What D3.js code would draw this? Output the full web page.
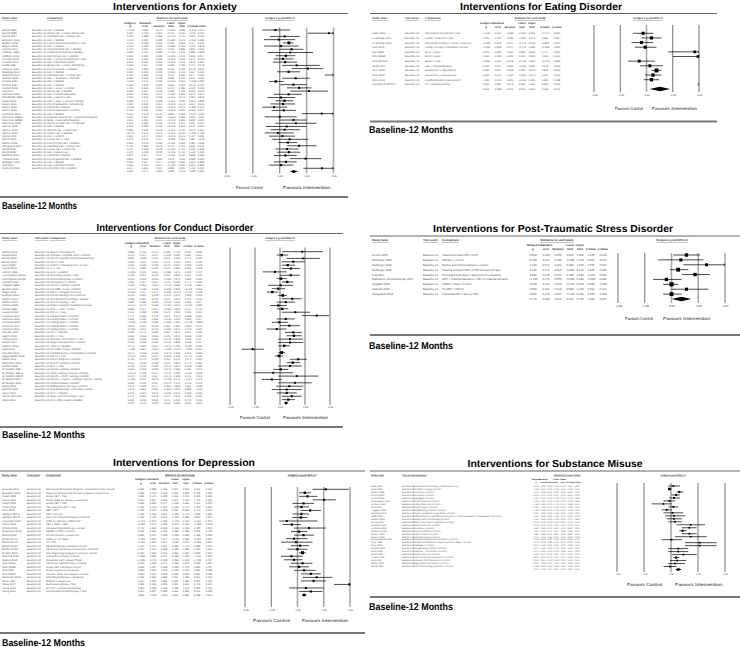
<!DOCTYPE html>
<html>
<head>
<meta charset="utf-8">
<script src="https://cdn.jsdelivr.net/npm/d3@7"></script>
<style>
  body { margin: 0; background: #fff; }
  svg { display: block; font-family: "Liberation Sans", Arial, sans-serif; text-rendering: geometricPrecision; }
</style>
</head>
<body>
<svg id="chart" width="740" height="647"></svg>
<script>
// ---- shared ----
const axisTicks = [-2, -1, 0, 1, 2];
const timePoint = "Baseline-12";
const statHeads = [["Hedges's", "g"], ["Standard", "error"], ["", "Variance"], ["Lower", "limit"], ["Upper", "limit"], ["", "Z-Value"], ["", "p-Value"]];

// ---- Anxiety ----
const anxietyStudies = ["Barrett 1996", "Barrett 1998", "Barrett 2004", "Bernstein 2005", "Bodden 2008", "Bögels 2008", "Chavira 2014", "Cobham 1998", "Cobham 2012", "Creswell 2010", "Creswell 2017", "Dadds 1997", "Flannery 2000", "Ginsburg 2014", "Hirshfeld 2010", "Hudson 2009", "Kendall 1994", "Kendall 1997", "Kendall 2008", "Lau 2010", "Manassis 2002", "Mendlowitz 1999", "Nauta 2003", "Rapee 2005", "Rapee 2006", "Rapee 2010", "Schneider 2011", "Silverman 1999a", "Silverman 1999b", "Silverman 2009", "Spence 2000", "Spence 2006", "Spence 2011", "Spence 2017", "Storch 2015", "Waters 2009", "Wergeland 2014", "Wood 2006", "Wood 2009", "Wuthrich 2012", "Thirlwall 2013", "Gallagher 2004", "Pahl 2011", "Kennedy 2009"];
const anxietyComparisons = ["CBT v Waitlist", "Group CBT + FAM v Group CBT", "Individual CBT v Group CBT", "CBT v Waitlist", "Family-based intervention v TAU", "CBT v Control", "Computerised CBT v Waitlist", "Child-parent training v Waitlist", "Brief Group CBT v Waitlist", "CBT + Parent Involvement v CBT", "CBT v Attention control", "Group CBT + FAM v Monitoring", "Parent-led CBT v Waitlist", "CBT v Waitlist", "Individual CBT v Family CBT", "CBT + Sertraline v Placebo", "CBT v Waitlist", "CBT v Waitlist", "ICBT v FCBT v Control", "Group CBT v Waitlist", "CBT v Parent Education", "CBT + Parent v CBT", "ICBT v ICBT + Parent Training", "Parent Education v Monitoring", "Cool Kids v Waitlist", "Parent Education v Control", "CBT v Waitlist", "Exposure-based CBT v Education/Support", "GCBT v Education/Support", "Parent & Child CBT v Child CBT", "CBT v Waitlist", "Internet CBT v Clinic CBT", "Online CBT v Waitlist", "CBT v Control", "Family CBT v TAU", "Parent-Child CBT v Waitlist", "Individual CBT v Group CBT", "Family CBT v Child CBT", "CBT v Usual Care", "Cool Kids v Waitlist", "Parent-guided CBT v Waitlist", "CBT v Waitlist", "CBT v Attention control", "Cool Little Kids v Waitlist"];
const anxietyG = [-0.16, 1.83, 0.18, -0.04, 0.34, 0.05, 0.44, 0.39, 0.23, 0.12, 0.20, 0.63, 1.05, 0.33, 2.45, 0.59, -0.15, 0.51, 0.72, 1.09, 0.33, 0.05, 0.18, 0.12, -0.21, 0.15, 1.56, 0.00, 0.51, 0.60, 0.26, 0.18, -0.07, 0.10, 0.37, 0.30, 0.72, 0.27, 0.34, 0.21, 0.96, 0.23, 0.05, 1.57];
const anxietyLower = [-0.65, 1.04, -0.37, -0.59, 0.12, -0.59, 0.00, -0.46, -0.16, -0.22, -0.25, 0.09, 0.45, -0.10, 1.67, 0.09, -0.40, 0.02, 0.27, 0.39, -0.22, -0.46, -0.16, -0.34, -0.65, -0.30, 0.82, -0.56, -0.04, -0.16, -0.52, -0.34, -0.56, -0.40, -0.28, -0.05, 0.27, -0.16, -0.10, -0.22, 0.37, -0.22, -0.40, 0.88];
const anxietyUpper = [0.39, 2.62, 0.76, 0.57, 0.51, 0.70, 0.88, 1.24, 0.57, 0.51, 0.65, 1.49, 1.61, 0.76, 3.20, 1.12, 0.15, 1.00, 1.18, 1.79, 0.82, 0.57, 0.51, 0.57, 0.27, 0.60, 2.30, 0.63, 1.00, 1.37, 1.00, 0.76, 0.51, 0.57, 1.06, 0.65, 1.37, 0.70, 0.76, 0.63, 1.55, 0.63, 0.51, 2.26];
const anxietySummary = [0.52, 0.38, 0.67];

// ---- Eating disorder ----
const eatingStudies = ["Eisler 2000", "Le Grange 2007", "Le Grange 2016", "Lock 2010", "Nyle 1995", "Nyle 1995b", "Schmidt 2007", "Stefini 2017", "Stice 2008", "Stice 2010", "Stice 2013", "Tanofsky-Kraff 2014"];
const eatingComparisons = ["Specialised out-patient v TAU", "Family Treatment v CBT", "Parent intervention v Family Treatment", "Family Therapy v Individual Therapy", "BFST v EOFT", "BFST v EOFT", "BDEX v TAU", "CBT v Psychodynamic", "Dissonance v educational", "Dissonance v Assessment", "Healthy Weight v Assessment", "IPT v Healthy Eating"];
const eatingG = [-0.13, 0.19, -0.19, -0.05, 1.84, 1.96, -0.28, 0.13, 0.38, 0.25, 0.19, 2.60];
const eatingLower = [-0.51, -0.19, -0.57, -0.44, 0.82, 1.01, -0.70, -0.25, 0.19, -0.06, -0.10, 2.05];
const eatingUpper = [0.25, 0.57, 0.25, 0.38, 2.35, 2.90, 0.32, 0.63, 0.57, 0.57, 0.48, 3.15];
const eatingSummary = [0.51, 0.12, 0.90];

// ---- Conduct disorder ----
const conductStudies = ["Axberg 2012", "August 2001", "Barrett 2000", "Behan 2001", "Braet 2009", "Carroll 2013", "Dishion 1995", "Cunningham 2010a", "Cunningham 2010b", "Dekovic 2012", "Forgatch 1999", "Gardner 2006", "Hagen 2011", "Hartman 2003", "Hanisch 2014", "Herbert 2013", "Jouriles 2009", "Kazdin 1992", "Larsson 2009", "Lochman 2004", "Lochman 2006", "Lochman 2008", "Lochman 2011", "Lochman 2015", "McCabe 2014", "Ogden 2008", "Oetting 2003", "Rohde 2004", "Sanders 2000", "Scott 2010", "Sheridan 2012", "Sigmarsdottir 2019", "Stattin 2015", "Stoolmiller 2000", "Sundell 2008", "W-Stratton 1984", "W-Stratton 1997a", "W-Stratton 1997b", "W-Stratton 2004", "W-Stratton 2011", "Weiss 2013", "Wolchik 2002", "Zisser 2005", "van de Wiel 2007", "Nixon 2003"];
const conductComparisons = ["GNFP v Recruitment", "CPPRG + CPPRG Cont v Control", "Parent Training v Parent Counselling", "PCIT v TAU", "DINKY v Standard Serv. Service", "IY v TAU", "FAST v waitlist", "Parenting course v TAU", "Community group v Control", "Compliance v Control", "Parent Training v Control", "Incredible Years v Waitlist", "PMTO v Regular Services", "Parent training v no treatment", "Self-directed parenting v Waitlist", "Parent training v TAU", "Project Support v Existing Services", "PSST + PMT v PSST", "PMTO v TAU", "Coping Power v Control", "Coping Power v Control", "Coping Power v Control", "Coping Power v Control", "Coping Power v Control", "PCIT v Waitlist", "MST v TAU", "Intensive intervention v TAU", "Anger Management v Control", "Triple P v Waitlist", "Incredible Years v Waitlist", "Conjoint Behav. Consultation v Control", "PMTO v TAU", "Parent program v Control", "Parent Training v Control", "MST v TAU", "Parent Training v Waitlist", "Child Training v Parent Training", "Parent + Child Training v Control", "Parent + Teacher Training v Parent Training", "Child Dinosaur v Waitlist", "Multisystemic therapy v Control", "New Beginnings v Literature control", "PCIT v Waitlist", "Anger control training v TAU", "PCIT abbreviated v Waitlist"];
const conductG = [0.89, 0.07, 0.93, 0.53, 0.31, 0.44, -0.20, 0.43, 0.04, 0.29, 0.03, -0.07, -0.31, 0.11, 0.49, 0.23, -0.07, 0.09, 0.61, 1.47, 0.23, -0.03, 0.37, -0.13, 0.53, 0.56, 0.40, 0.40, 0.17, -1.09, 0.07, -0.04, 0.73, 0.51, 0.40, 0.03, -0.27, 0.67, -0.33, 0.60, 0.37, 0.27, 0.27, 0.47, 0.33];
const conductLower = [0.09, -0.13, 0.27, 0.07, 0.07, 0.07, -0.69, 0.00, -0.13, 0.07, -0.47, -0.33, -0.53, -0.07, 0.07, -0.13, -0.40, -0.13, 0.07, 0.87, -0.13, -0.33, 0.00, -0.53, 0.20, 0.27, -0.07, -0.07, -0.07, -1.53, -0.07, -0.20, 0.40, 0.27, -0.07, -0.27, -1.07, -0.07, -0.73, -0.07, -0.16, -0.33, -0.13, 0.07, 0.07];
const conductUpper = [1.71, 0.33, 1.60, 1.00, 0.60, 0.80, 0.27, 0.80, 0.27, 0.53, 0.53, 0.20, -0.07, 0.27, 0.87, 0.60, 0.27, 0.33, 1.20, 1.97, 0.60, 0.33, 0.80, 0.27, 0.87, 0.87, 0.93, 0.93, 0.40, -0.64, 0.20, 0.13, 1.07, 0.80, 0.87, 0.33, 0.53, 1.53, 0.07, 1.27, 0.93, 0.87, 0.67, 0.87, 0.60];
const conductSummary = [0.24, 0.16, 0.33];

// ---- PTSD ----
const ptsdStudies = ["Cohen 2005", "Deblinger 1996", "Deblinger 1999", "Deblinger 2006", "Foa 2013", "Mannarino 2012/Deblinger 2011", "Nygaard 2016", "Salloum 2016", "Wergeland 2014"];
const ptsdComparisons = ["Trauma focused CBT v NST", "Efficacy v control", "Mother and child treatment v control", "Trauma focused CBT v Child focused therapy", "Prolonged Exposure v Supportive Counselling", "CBT + Trauma Narrative v CBT no trauma narrative", "EMDR v Wait v Control", "TF-CBT v CBT-S", "Individual CBT v Group CBT"];
const ptsdG = [0.56, 0.35, 1.31, 0.25, 0.88, -0.19, 0.00, 0.56, 0.00];
const ptsdLower = [0.06, -0.50, 0.44, -0.06, 0.38, -0.69, -0.31, 0.00, -0.31];
const ptsdUpper = [1.06, 1.19, 2.45, 0.63, 1.44, 0.38, 0.25, 1.38, 0.38];
const ptsdSummary = [0.37, 0.01, 0.74];

// ---- Depression ----
const depressionStudies = ["Arnarson 2011", "Beardslee 2013", "Clarke 1995", "Clarke 2001", "Clarke 2002", "Clarke 2016", "Dietz 2015", "Goodyer 2017a", "Goodyer 2017b", "Lewinsohn 1990", "Melvin 2006", "O'Shea 2015", "Poppelaars 2016", "Rasing 2019", "Rohde 2014a", "Rohde 2014b", "Rohde 2015a", "Rohde 2015b", "Sandler 2016", "Sheffield 2006", "Stallard 2012", "Stice 2008a", "Stice 2008b", "Stice 2010", "Stice 2010b", "Stoolmiller 2005", "Weisz 1997", "Weisz 2017", "Young 2006", "Young 2016"];
const depressionComparisons = ["Depression Prevention Program v Assessment Only Control", "Cognitive-behavioral prevention program v Usual Care", "Group CBT v TAU", "Group cognitive therapy v usual care", "Group CBT v TAU", "TAU plus brief CBT v TAU", "FBIT v IPT", "CBT v Control", "Short Term Psychoanalytical v Control", "CWD-A v Waitlist v CWD-A+P", "CBT v SSRI + CBT", "Individual Psychotherapy v Group", "SPARX v CWD v Control", "Op Sterrenzicht v Usual care", "CWD-A v Life Skills", "CT v IPT", "CB Bibliotherapy v Brochure control", "CB Group Depression Intervention v Brochure", "New beginnings program v Literature control", "Indicated Universal v Control", "Classroom CBT v Usual PSHE", "CB Group v Bibliotherapy v Control", "Group CBT v Brochure control", "Group supportive expressive", "Transfer, Skills and Support v control", "Child Psychotherapy v Academic", "MATCH v Usual Care", "Expressive Helping v TAU", "IPT-AST v School Counselling", "Interpersonal Psychotherapy v TAU"];
const depressionG = [1.08, 0.28, 0.38, 1.01, 0.23, 0.15, 0.48, 0.15, 0.13, -0.41, -0.22, 0.44, 0.06, 0.23, -0.13, -0.06, 0.10, 0.00, 0.19, -0.23, -0.13, 0.19, 0.06, 0.25, 0.51, 0.73, 0.61, 1.98, 0.32, 0.51];
const depressionLower = [0.57, 0.06, 0.06, 0.57, -0.19, -0.13, 0.13, -0.19, -0.19, -0.70, -0.57, -0.13, -0.25, -0.13, -0.44, -0.63, -0.25, -0.38, 0.06, -0.63, -0.51, -0.25, -0.32, -0.13, 0.13, 0.19, 0.13, 1.39, -0.32, 0.06];
const depressionUpper = [1.96, 0.51, 0.76, 1.46, 0.63, 0.44, 0.89, 0.44, 0.38, 0.76, 0.13, 1.08, 0.38, 0.63, 0.38, 0.57, 0.44, 0.38, 0.32, 0.19, 0.19, 0.57, 0.44, 0.70, 0.89, 1.33, 1.08, 2.60, 1.01, 0.95];
const depressionSummary = [0.25, 0.16, 0.35];

// ---- Substance misuse ----
const substanceStudies = ["Bodin 2011", "Caria 2011", "Clayton 1996", "Conrod 2010", "Conrod 2013", "Cunningham 2012", "D'Amico 2012", "Dent 2001", "Faggiano 2008", "Gonzales 2012", "Griffin 2003", "Hansen 1988", "Koning 2011", "Lammers 2015", "Lochman 2003", "Malmberg 2014", "Newton 2009", "Newton 2010", "O'Leary-Barrett 2010", "Perry 1996", "Perry 2003", "Sloboda 2009", "Spoth 2001", "Spoth 2004", "Teesson 2017", "Vogl 2012", "Walton 2010", "Werch 2005"];
const substanceComparisons = ["Motivational Interviewing v Assessment only", "Life Skills Training v Control", "Preventure v Control", "Preventure v Control", "Unplugged v Control", "Climate Schools v Control", "Family Check-Up v Control", "Project ALERT v Control", "Strengthening Families v Control", "Project Towards No Drug Abuse v Control", "Combined school and family intervention v Alcohol education v Assessment only control", "Healthy School and Drugs v Control", "Örebro Prevention Programme v Control", "Climate Schools v Control", "Preventure v Control", "Project Northland v Control", "Keepin' it REAL v Control", "Brief intervention v Control", "Computer-based brief intervention v Control", "Adolescent Substance Abuse Prevention Study v Control", "PROSPER v Control", "Strengthening Families v Control", "CLIMATE + PreVenture v Control", "Climate Schools v Control", "Brief motivational intervention v Control", "Computer brief intervention v Control", "Image-based intervention v Control", "School-based drug prevention v Control"];
const substanceG = [0.09, -0.06, 0.31, 0.19, 0.11, -0.06, -0.28, 0.09, -0.16, 0.06, 0.11, 0.11, 0.15, 0.73, 0.68, 0.43, 0.68, 0.73, 0.02, 1.07, 1.07, 0.27, 0.27, 0.46, 0.19, 0.23, 0.15, -0.04];
const substanceLower = [-0.10, -0.12, 0.21, 0.02, -0.07, -0.28, -0.72, -0.10, -0.35, -0.28, -0.22, -0.16, -0.10, 0.21, 0.40, 0.31, 0.40, 0.15, -0.35, 0.52, 0.52, -0.10, -0.10, 0.02, 0.09, -0.04, -0.10, -0.28];
const substanceUpper = [0.33, 0.02, 0.46, 0.33, 0.33, 0.15, 0.02, 0.27, 0.02, 0.46, 0.52, 0.40, 0.40, 1.26, 0.95, 0.58, 0.95, 1.32, 0.40, 1.69, 1.69, 0.64, 0.64, 0.95, 0.31, 0.56, 0.52, 0.21];
const substanceSummary = [0.27, 0.16, 0.39];

const svg = d3.select("#chart");
const f3 = d3.format(".3f");

function normCdf(z) {
  const t = 1 / (1 + 0.2316419 * Math.abs(z));
  const d = 0.3989423 * Math.exp(-z * z / 2);
  const p = d * t * (0.3193815 + t * (-0.3565638 + t * (1.781478 + t * (-1.821256 + t * 1.330274))));
  return z > 0 ? 1 - p : p;
}

// table statistics for one row, from g and its 95% CI
function stats(g, lo, hi) {
  const se = (hi - lo) / 3.92;
  const z = g / se;
  return [g, se, se * se, lo, hi, z, 2 * (1 - normCdf(Math.abs(z)))];
}

function drawPanel(p, d) {
  const n = d.g.length;
  const panel = svg.append("g");
  const fs = p.fs, sfs = p.sfs || p.fs;

  // title and rules
  panel.append("text")
      .attr("x", p.titleX).attr("y", p.titleY)
      .attr("text-anchor", "middle")
      .attr("font-size", 10.2).attr("font-weight", "bold")
      .attr("textLength", p.titleW).attr("lengthAdjust", "spacingAndGlyphs")
      .text(d.title);
  panel.append("line")
      .attr("x1", p.lineX[0]).attr("x2", p.lineX[1])
      .attr("y1", p.topLine).attr("y2", p.topLine)
      .attr("stroke", "#555").attr("stroke-width", 0.9);
  panel.append("line")
      .attr("x1", p.lineX[0]).attr("x2", p.lineX[1])
      .attr("y1", p.bottomLine).attr("y2", p.bottomLine)
      .attr("stroke", "#777").attr("stroke-width", 2);
  panel.append("text")
      .attr("x", p.lineX[0] + (p.lineX[0] ? -1 : 2)).attr("y", p.baseY)
      .attr("font-size", 10).attr("font-weight", "bold")
      .attr("textLength", p.baseW).attr("lengthAdjust", "spacingAndGlyphs")
      .text("Baseline-12 Months");

  // table headers
  const head = panel.append("g").attr("font-size", fs).attr("font-weight", "bold").attr("fill", "#333");
  head.append("text").attr("x", p.cols.name).attr("y", p.headY).attr("text-decoration", "underline").text("Study name");
  if (p.timeHeader) head.append("text").attr("x", p.cols.time).attr("y", p.headY).attr("text-decoration", "underline").text("Time point");
  head.append("text").attr("x", p.cols.comp).attr("y", p.headY).attr("text-decoration", "underline").text("Comparison");
  head.append("text").attr("x", p.cols.statsHead).attr("y", p.headY).attr("text-anchor", "middle")
      .attr("text-decoration", "underline").text("Statistics for each study");
  head.append("text").attr("x", p.cols.ciHead).attr("y", p.headY).attr("text-anchor", "middle")
      .attr("text-decoration", "underline").text("Hedges's g and 95% CI");
  statHeads.forEach((h, j) => {
    h.forEach((s, k) => {
      head.append("text").attr("x", p.cols.stats[j]).attr("y", p.colHeadY[k])
          .attr("text-anchor", "middle").attr("font-size", sfs).text(s);
    });
  });

  // scales
  const y = d3.scalePoint().domain(d3.range(n + 1)).range([p.rowY0, p.diamondY]);
  const x = d3.scaleLinear().domain([-2, 2]).range(p.axis);
  const step = y.step();

  // table rows
  const rows = d.g.map((g, i) => ({
    i, name: d.names[i], comp: d.comps[i], g, lo: d.lower[i], hi: d.upper[i],
    st: stats(g, d.lower[i], d.upper[i])
  }));
  const summ = { i: n, g: d.summary[0], lo: d.summary[1], hi: d.summary[2],
    st: stats(d.summary[0], d.summary[1], d.summary[2]) };

  const tbl = panel.append("g").attr("font-size", fs).attr("fill", "#555");
  rows.forEach(r => {
    const yy = y(r.i) + fs * 0.35;
    tbl.append("text").attr("x", p.cols.name).attr("y", yy).text(r.name);
    tbl.append("text").attr("x", p.cols.time).attr("y", yy).text(timePoint);
    tbl.append("text").attr("x", p.cols.comp).attr("y", yy).text(r.comp);
  });
  rows.concat([summ]).forEach(r => {
    const yy = y(r.i) + fs * 0.35;
    r.st.forEach((v, j) => {
      tbl.append("text").attr("x", p.cols.stats[j]).attr("y", yy)
          .attr("text-anchor", "middle").attr("font-size", sfs).text(f3(v));
    });
  });

  // reference lines (thick grey or thin dark, per panel)
  panel.append("g").selectAll("line").data(axisTicks).join("line")
      .attr("x1", v => x(v)).attr("x2", v => x(v))
      .attr("y1", p.lineTop).attr("y2", p.lineBottom)
      .attr("stroke", (v, k) => p.thick[k] ? "#aaa" : "#333")
      .attr("stroke-width", (v, k) => p.thick[k] ? 1.6 : 0.7);

  // axis
  panel.append("g")
      .attr("transform", `translate(0,${p.tickY})`)
      .call(d3.axisBottom(x).tickValues(axisTicks).tickFormat(d3.format(".2f")).tickSize(0).tickPadding(0))
      .call(a => a.select(".domain").remove())
      .attr("font-family", null)
      .selectAll("text").attr("font-size", fs).attr("fill", "#333");

  // confidence intervals, clipped at the axis range
  const maxW = d3.max(rows, r => 1 / (r.st[1] * r.st[1]));
  const ci = panel.append("g");
  rows.forEach(r => {
    const yy = y(r.i);
    const x1 = x(Math.max(r.lo, -2)), x2 = x(Math.min(r.hi, 2));
    if (r.lo < 2 && r.hi > -2) {
      ci.append("line").attr("x1", x1).attr("x2", x2).attr("y1", yy).attr("y2", yy)
          .attr("stroke", "#000").attr("stroke-width", 0.7);
    }
    if (r.hi > 2) {
      const xe = x(2);
      ci.append("path").attr("d", `M${xe - 1.3},${yy - 1}L${xe},${yy}L${xe - 1.3},${yy + 1}`)
          .attr("fill", "none").attr("stroke", "#000").attr("stroke-width", 0.6);
    }
    if (r.lo < -2) {
      const xe = x(-2);
      ci.append("path").attr("d", `M${xe + 1.3},${yy - 1}L${xe},${yy}L${xe + 1.3},${yy + 1}`)
          .attr("fill", "none").attr("stroke", "#000").attr("stroke-width", 0.6);
    }
    if (r.g >= -2 && r.g <= 2) {
      const s = step * (0.5 + 0.35 * Math.sqrt((1 / (r.st[1] * r.st[1])) / maxW));
      ci.append("rect").attr("x", x(r.g) - s / 2).attr("y", yy - s / 2)
          .attr("width", s).attr("height", s).attr("fill", "#000");
    }
  });

  // summary diamond
  const yd = y(n), hd = Math.min(2.3, step * 0.5);
  panel.append("path")
      .attr("d", `M${x(summ.lo)},${yd}L${x(summ.g)},${yd - hd}L${x(summ.hi)},${yd}L${x(summ.g)},${yd + hd}Z`)
      .attr("fill", "#000");

  // favours labels
  const fav = panel.append("g").attr("font-size", 4.3).attr("fill", "#111");
  fav.append("text").attr("x", p.favC[0]).attr("y", p.favY + 1.5)
      .attr("textLength", p.favC[1] - p.favC[0]).attr("lengthAdjust", "spacingAndGlyphs").text("Favours Control");
  fav.append("text").attr("x", p.favI[0]).attr("y", p.favY + 1.5)
      .attr("textLength", p.favI[1] - p.favI[0]).attr("lengthAdjust", "spacingAndGlyphs").text("Favours Intervention");
}

drawPanel({ titleX: 175, titleY: 10, titleW: 124, lineX: [0, 348], topLine: 13.5, bottomLine: 197, baseY: 209, baseW: 75,
  headY: 19, colHeadY: [23.5, 27], rowY0: 30, diamondY: 171.5, axis: [226, 333.5], lineTop: 27.5, lineBottom: 173.5,
  tickY: 175.5, favY: 187, favC: [236, 263], favI: [283, 330], fs: 2.7, timeHeader: false,
  thick: [false, false, false, true, true],
  cols: { name: 2, time: 32, comp: 47, stats: [130, 145, 159, 171, 182, 192, 201], statsHead: 172, ciHead: 280 } },
  { title: "Interventions for Anxiety", names: anxietyStudies, comps: anxietyComparisons,
    g: anxietyG, lower: anxietyLower, upper: anxietyUpper, summary: anxietySummary });

drawPanel({ titleX: 541, titleY: 10, titleW: 162, lineX: [370, 717], topLine: 13.5, bottomLine: 121.5, baseY: 133, baseW: 84,
  headY: 19, colHeadY: [24, 27.5], rowY0: 33.3, diamondY: 89, axis: [594, 699], lineTop: 25, lineBottom: 92,
  tickY: 94.5, favY: 108, favC: [615, 643], favI: [652, 697], fs: 2.7, timeHeader: true,
  thick: [false, false, true, false, false],
  cols: { name: 372, time: 405, comp: 425, stats: [486, 498, 510, 522, 532, 545, 557], statsHead: 530, ciHead: 648 } },
  { title: "Interventions for Eating Disorder", names: eatingStudies, comps: eatingComparisons,
    g: eatingG, lower: eatingLower, upper: eatingUpper, summary: eatingSummary });

drawPanel({ titleX: 175, titleY: 231, titleW: 157, lineX: [0, 343], topLine: 233.5, bottomLine: 427, baseY: 437.5, baseW: 83,
  headY: 239, colHeadY: [243.5, 247], rowY0: 251.7, diamondY: 403, axis: [230, 330], lineTop: 247.5, lineBottom: 405,
  tickY: 406.5, favY: 417.5, favC: [240, 270], favI: [283, 328], fs: 2.7, timeHeader: true,
  thick: [false, true, true, true, true],
  cols: { name: 2, time: 35, comp: 50, stats: [131, 143, 155, 167, 177, 188, 199], statsHead: 170, ciHead: 280 } },
  { title: "Interventions for Conduct Disorder", names: conductStudies, comps: conductComparisons,
    g: conductG, lower: conductLower, upper: conductUpper, summary: conductSummary });

drawPanel({ titleX: 553, titleY: 232, titleW: 240, lineX: [370, 740], topLine: 236, bottomLine: 335, baseY: 349, baseW: 84,
  headY: 241, colHeadY: [245.5, 249.5], rowY0: 255, diamondY: 299, axis: [618, 725], lineTop: 253, lineBottom: 303,
  tickY: 305, favY: 318.5, favC: [625, 653], favI: [663, 710], fs: 2.9, timeHeader: true,
  thick: [false, false, true, true, true],
  cols: { name: 372, time: 423, comp: 442, stats: [533, 546, 558, 570, 580, 591, 603], statsHead: 557, ciHead: 672 } },
  { title: "Interventions for Post-Traumatic Stress Disorder", names: ptsdStudies, comps: ptsdComparisons,
    g: ptsdG, lower: ptsdLower, upper: ptsdUpper, summary: ptsdSummary });

drawPanel({ titleX: 184, titleY: 466, titleW: 142, lineX: [0, 365], topLine: 471, bottomLine: 633, baseY: 646, baseW: 83,
  headY: 475.5, colHeadY: [480, 484], rowY0: 489.3, diamondY: 595, axis: [245, 350], lineTop: 487, lineBottom: 607,
  tickY: 609, favY: 620.5, favC: [253, 290], favI: [302, 348], fs: 2.6, timeHeader: true,
  thick: [false, false, true, true, true],
  cols: { name: 2, time: 27, comp: 46, stats: [141, 153, 164, 175, 186, 197, 209], statsHead: 180, ciHead: 302 } },
  { title: "Interventions for Depression", names: depressionStudies, comps: depressionComparisons,
    g: depressionG, lower: depressionLower, upper: depressionUpper, summary: depressionSummary });

drawPanel({ titleX: 555, titleY: 467, titleW: 175, lineX: [370, 740], topLine: 471, bottomLine: 597, baseY: 610, baseW: 84,
  headY: 475.5, colHeadY: [479.5, 482.5], rowY0: 486, diamondY: 569.5, axis: [617, 725], lineTop: 483, lineBottom: 572,
  tickY: 573.5, favY: 584.5, favC: [627, 662], favI: [675, 722], fs: 2.3, sfs: 2.1, timeHeader: true,
  thick: [false, false, true, true, false],
  cols: { name: 371, time: 402, comp: 413, stats: [536, 543, 549.5, 556, 563, 570, 577], statsHead: 567, ciHead: 673 } },
  { title: "Interventions for Substance Misuse", names: substanceStudies, comps: substanceComparisons,
    g: substanceG, lower: substanceLower, upper: substanceUpper, summary: substanceSummary });
</script>
</body>
</html>
